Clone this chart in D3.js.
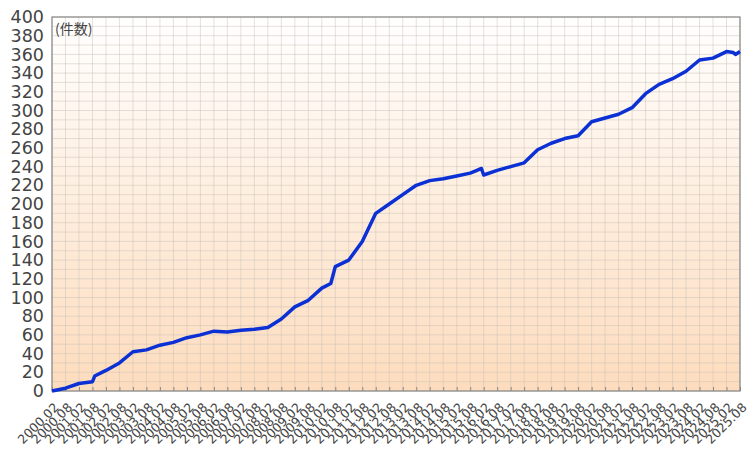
<!DOCTYPE html><html><head><meta charset="utf-8"><script src="https://d3js.org/d3.v7.min.js"></script>
<style>body{margin:0;background:#fff}</style></head><body><svg id="c" width="755" height="460"></svg>
<script>
// months since 2000.02 and cumulative counts
const months = [0,6,12,18,19,24,30,36,42,48,54,60,66,72,78,84,90,96,102,108,114,120,124,126,132,138,144,150,156,162,168,174,180,186,189,191,192,198,204,210,216,222,228,234,240,246,252,258,264,270,276,282,288,294,300,303,304,306];
const counts = [0,3,8,10,16,22,30,42,44,49,52,57,60,64,63,65,66,68,77,90,97,110,115,133,140,160,190,200,210,220,225,227,230,233,236,238,231,236,240,244,258,265,270,273,288,292,296,303,318,328,334,342,354,356,363,362,360,363];
const tickLabels = [];
for(let y=2000;y<=2025;y++){tickLabels.push(y+".02");tickLabels.push(y+".08");}
const yTicks = d3.range(0,401,20);

const svg=d3.select("#c");
const L=52,R=740,T=17,B=391;
const x=d3.scaleLinear().domain([0,306]).range([L,R]);
const y=d3.scaleLinear().domain([0,400]).range([B,T]);
const defs=svg.append("defs");
const g=defs.append("linearGradient").attr("id","bg").attr("x1",0).attr("y1",0).attr("x2",0).attr("y2",1);
g.append("stop").attr("offset","0%").attr("stop-color","#ffffff");
g.append("stop").attr("offset","100%").attr("stop-color","#fddcbd");
svg.append("rect").attr("x",L).attr("y",T).attr("width",R-L).attr("height",B-T).attr("fill","url(#bg)");
svg.append("g").selectAll("line").data(d3.range(0,401,10)).join("line")
 .attr("x1",L).attr("x2",R).attr("y1",d=>y(d)).attr("y2",d=>y(d)).attr("stroke","#c8c0b8").attr("stroke-opacity",0.6).attr("stroke-width",0.8);
svg.append("g").selectAll("line").data(tickLabels.map((d,i)=>i*6)).join("line")
 .attr("y1",T).attr("y2",B).attr("x1",d=>x(d)).attr("x2",d=>x(d)).attr("stroke","#c8c0b8").attr("stroke-opacity",0.6).attr("stroke-width",0.8);
svg.append("rect").attr("x",L).attr("y",T).attr("width",R-L).attr("height",B-T).attr("fill","none").attr("stroke","#888").attr("stroke-width",1.2);
const ya=d3.axisLeft(y).tickValues(yTicks).tickSize(0).tickPadding(8);
svg.append("g").attr("transform",`translate(${L},0)`).call(ya).call(a=>a.select(".domain").remove())
 .selectAll("text").attr("font-family","DejaVu Sans").attr("font-size",17.5).attr("fill","#444");
const xa=d3.axisBottom(x).tickValues(tickLabels.map((d,i)=>i*6)).tickFormat((d,i)=>tickLabels[i]).tickSize(4).tickSizeInner(-4);
const xg=svg.append("g").attr("transform",`translate(0,${B})`).call(xa);
xg.select(".domain").remove();
xg.selectAll("line").attr("stroke","#888");
xg.selectAll("text").attr("font-family","DejaVu Sans").attr("font-size",12.5).attr("fill","#444")
 .attr("text-anchor","end").attr("dy",0).attr("transform","translate(5,15) rotate(-45)");
svg.append("text").attr("x",L+3).attr("y",T+17).text("(件数)").attr("font-family","Noto Sans CJK JP").attr("font-size",14).attr("fill","#444");
svg.append("path").datum(months.map((m,i)=>[m,counts[i]])).attr("fill","none").attr("stroke","#0b30d4").attr("stroke-width",3.5)
 .attr("stroke-linejoin","round").attr("d",d3.line().x(d=>x(d[0])).y(d=>y(d[1])));
</script></body></html>
